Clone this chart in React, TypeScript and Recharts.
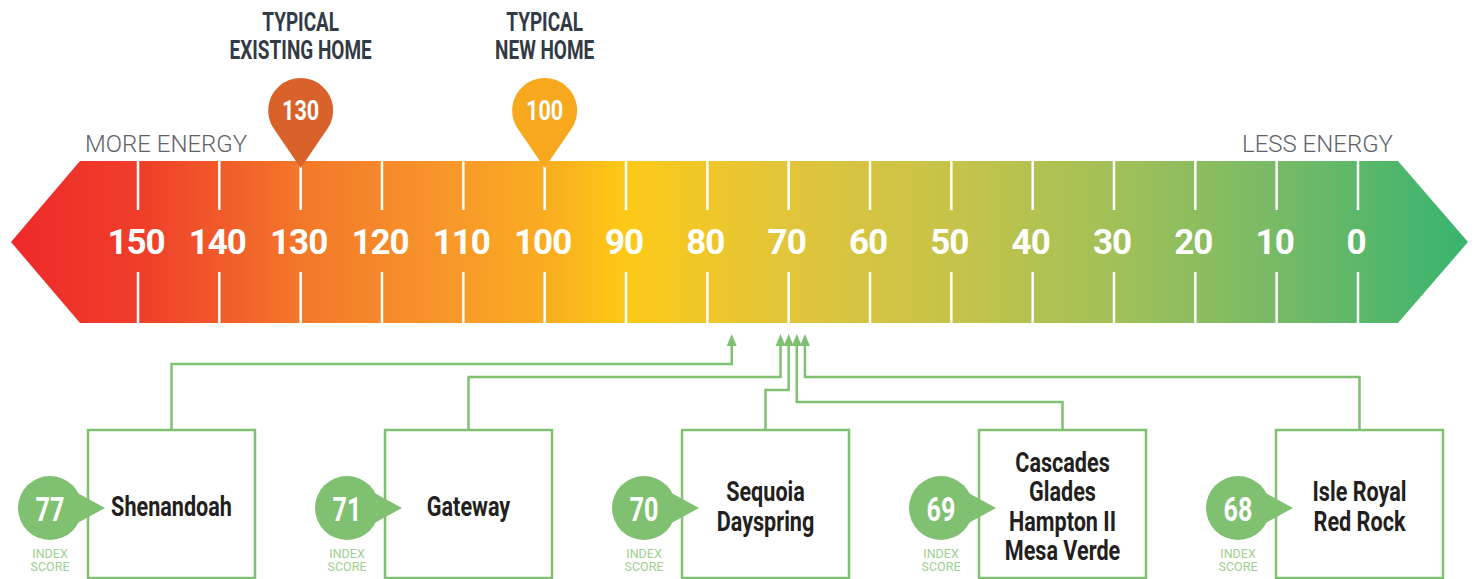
import React from "react";
import { ComposedChart, ReferenceArea, Scatter, XAxis, YAxis } from "recharts";

// index scale shown inside the arrow band (more energy on the left)
const scaleTicks = [150, 140, 130, 120, 110, 100, 90, 80, 70, 60, 50, 40, 30, 20, 10, 0];

// reference homes pinned above the band
const benchmarkScores = [130, 100];
const benchmarkTitles = [
  ["TYPICAL", "EXISTING HOME"],
  ["TYPICAL", "NEW HOME"],
];

// home models and their index scores
const homeScores = [77, 71, 70, 69, 68];
const homeNames = [
  ["Shenandoah"],
  ["Gateway"],
  ["Sequoia", "Dayspring"],
  ["Cascades", "Glades", "Hampton II", "Mesa Verde"],
  ["Isle Royal", "Red Rock"],
];

const endLabels = ["MORE ENERGY", "LESS ENERGY"];

const WIDTH = 1476;
const HEIGHT = 579;
const GREEN = "#7fc171";
const band = { top: 161, bottom: 323, mid: 242 };
const pinColors = ["#d9622b", "#f7a81c"];
const elbowY = [364, 377, 390, 402, 377];
const arrowTipY = 334;
const box = { top: 430, bottom: 578, width: 167, left0: 88, step: 297 };

const tickRows = scaleTicks.map((score) => ({ score, y: band.mid }));
const benchmarkRows = benchmarkScores.map((score, i) => ({ score, y: 168, i }));
const homeRows = homeScores.map((score, i) => ({ score, y: arrowTipY, i }));

// bold condensed look: Roboto squeezed horizontally
function CondText({ x, y, size, fill, sx = 0.78, children }: any) {
  return (
    <g transform={`translate(${x},${y}) scale(${sx},1)`}>
      <text x={0} y={0} textAnchor="middle" fill={fill} fontFamily="Roboto" fontWeight={700} fontSize={size}>
        {children}
      </text>
    </g>
  );
}

function BandShape(props: any) {
  const { x, y, width, height } = props;
  const left = x - 58;
  const right = x + width + 40;
  const mid = y + height / 2;
  const points = [
    [left - 69, mid],
    [left, y],
    [right, y],
    [right + 70, mid],
    [right, y + height],
    [left, y + height],
  ]
    .map((p) => p.join(","))
    .join(" ");

  return (
    <g>
      <defs>
        <linearGradient id="energyGrad" x1="0" x2="1" y1="0" y2="0">
          <stop offset="0" stopColor="#ee2a2a" />
          <stop offset="0.09" stopColor="#ef3e2a" />
          <stop offset="0.2" stopColor="#f3782a" />
          <stop offset="0.3" stopColor="#f7972a" />
          <stop offset="0.37" stopColor="#f9ae20" />
          <stop offset="0.42" stopColor="#fdc916" />
          <stop offset="0.53" stopColor="#e2c53a" />
          <stop offset="0.65" stopColor="#c5c34a" />
          <stop offset="0.76" stopColor="#a0c058" />
          <stop offset="0.87" stopColor="#77ba66" />
          <stop offset="1" stopColor="#38b46f" />
        </linearGradient>
      </defs>
      <polygon points={points} fill="url(#energyGrad)" />
      <text x={left + 5} y={y - 9} fontFamily="Roboto" fontWeight={300} fontSize={24} fill="#5f6369">
        {endLabels[0]}
      </text>
      <text
        x={right - 5}
        y={y - 9}
        textAnchor="end"
        fontFamily="Roboto"
        fontWeight={300}
        fontSize={24}
        fill="#5f6369"
      >
        {endLabels[1]}
      </text>
    </g>
  );
}

function TickShape(props: any) {
  const { cx, payload } = props;
  return (
    <g>
      <line x1={cx} x2={cx} y1={band.top} y2={210} stroke="#fff" strokeWidth={2.5} />
      <line x1={cx} x2={cx} y1={272} y2={band.bottom} stroke="#fff" strokeWidth={2.5} />
      <text
        x={cx - 2}
        y={band.mid + 12}
        textAnchor="middle"
        fill="#fff"
        fontFamily="Roboto"
        fontWeight={700}
        fontSize={35}
        letterSpacing={-1}
      >
        {payload.score}
      </text>
    </g>
  );
}

function PinShape(props: any) {
  const { cx, cy, payload } = props;
  const r = 32.5;
  const hy = 110.5;
  const d = cy - hy;
  const a = Math.asin(r / d);
  const tx = r * Math.cos(a);
  const ty = r * Math.sin(a);
  const path = `M${cx},${cy} L${cx + tx},${hy + ty} A${r},${r} 0 1 0 ${cx - tx},${hy + ty} Z`;
  const [l1, l2] = benchmarkTitles[payload.i];
  return (
    <g>
      <path d={path} fill={pinColors[payload.i]} />
      <CondText x={cx} y={hy + 9.5} size={27} fill="#fff" sx={0.8}>
        {payload.score}
      </CondText>
      <CondText x={cx} y={31} size={25} fill="#323a45" sx={0.76}>
        {l1}
      </CondText>
      <CondText x={cx} y={58.5} size={25} fill="#323a45" sx={0.76}>
        {l2}
      </CondText>
    </g>
  );
}

function HomeShape(props: any) {
  const { cx, cy, payload } = props;
  const i = payload.i;
  const left = box.left0 + i * box.step;
  const mid = left + box.width / 2;
  const ey = elbowY[i];
  const names = homeNames[i];
  const badgeX = left - 38;
  const badgeY = 508;
  const first = 506 - ((names.length - 1) * 29.5) / 2 + 10;
  return (
    <g>
      <path
        d={`M${mid},${box.top} L${mid},${ey} L${cx},${ey} L${cx},${cy + 8}`}
        fill="none"
        stroke={GREEN}
        strokeWidth={2.5}
      />
      <polygon points={`${cx},${cy} ${cx - 5},${cy + 12} ${cx + 5},${cy + 12}`} fill={GREEN} />
      <rect
        x={left}
        y={box.top}
        width={box.width}
        height={box.bottom - box.top}
        fill="#fff"
        stroke={GREEN}
        strokeWidth={2.5}
      />
      {names.map((n, k) => (
        <CondText key={n} x={mid} y={first + k * 29.5} size={27} fill="#231f20" sx={0.8}>
          {n}
        </CondText>
      ))}
      <circle cx={badgeX} cy={badgeY} r={32} fill={GREEN} />
      <polygon
        points={`${badgeX + 22},${badgeY - 18} ${badgeX + 55},${badgeY} ${badgeX + 22},${badgeY + 18}`}
        fill={GREEN}
      />
      <CondText x={badgeX} y={badgeY + 12.5} size={34} fill="#fff" sx={0.74}>
        {payload.score}
      </CondText>
      <text x={badgeX} y={558} textAnchor="middle" fill="#9dcf90" fontFamily="Roboto" fontSize={12.5}>
        INDEX
      </text>
      <text x={badgeX} y={571} textAnchor="middle" fill="#9dcf90" fontFamily="Roboto" fontSize={12.5}>
        SCORE
      </text>
    </g>
  );
}

export default function App() {
  return (
    <div style={{ width: WIDTH, height: HEIGHT, background: "#fff" }}>
      <style>{"body{margin:0}"}</style>
      <ComposedChart
        width={WIDTH}
        height={HEIGHT}
        data={tickRows}
        margin={{ top: 0, right: 118, bottom: 0, left: 138 }}
      >
        <XAxis type="number" dataKey="score" domain={[0, 150]} reversed hide />
        <YAxis type="number" dataKey="y" domain={[0, HEIGHT]} reversed hide />
        <ReferenceArea
          x1={150}
          x2={0}
          y1={band.top}
          y2={band.bottom}
          ifOverflow="visible"
          shape={BandShape}
        />
        <Scatter data={tickRows} shape={TickShape} isAnimationActive={false} />
        <Scatter data={benchmarkRows} shape={PinShape} isAnimationActive={false} />
        <Scatter data={homeRows} shape={HomeShape} isAnimationActive={false} />
      </ComposedChart>
    </div>
  );
}
